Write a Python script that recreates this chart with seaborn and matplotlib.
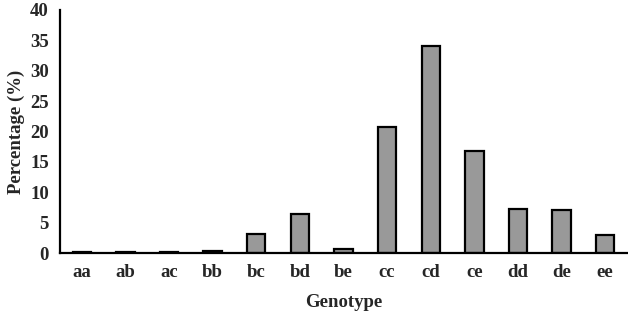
import matplotlib
matplotlib.use("Agg")
import matplotlib.pyplot as plt
import seaborn as sns
import pandas as pd
import numpy as np

genotypes = ["aa", "ab", "ac", "bb", "bc", "bd", "be", "cc", "cd", "ce", "dd", "de", "ee"]
percentages = [0.1, 0.1, 0.1, 0.3, 3.2, 6.5, 0.6, 20.8, 34.0, 16.8, 7.2, 7.0, 3.0]
y_ticks = [0, 5, 10, 15, 20, 25, 30, 35, 40]

sns.set_style("white")
plt.rcParams['font.family'] = ['Liberation Serif', 'DejaVu Serif']
plt.rcParams['font.weight'] = 'bold'

df = pd.DataFrame({"Genotype": genotypes, "Percentage": percentages})

fs = 13.5
fig = plt.figure(figsize=(6.28, 3.11), dpi=100)
ax = fig.add_axes([60/628, (311-253)/311, (627-60)/628, (253-10)/311])
sns.barplot(data=df, x="Genotype", y="Percentage", order=genotypes,
            color="#999999", saturation=1, edgecolor="black", linewidth=1.6,
            width=0.42, ax=ax)

ax.set_xlim(-0.5, len(genotypes) - 0.5)
ax.set_ylim(0, 40)
ax.set_yticks(y_ticks)
ax.set_yticklabels([str(t) for t in y_ticks], fontsize=fs, fontweight='bold')
ax.set_xticks(range(len(genotypes)))
ax.set_xticklabels(genotypes, fontsize=fs, fontweight='bold')
ax.set_xticks(np.arange(len(genotypes)) + 0.5, minor=True)
ax.tick_params(axis='x', which='major', length=0, pad=8)
ax.tick_params(axis='x', which='minor', direction='in', length=5, width=1.6, color='black')
ax.tick_params(axis='y', which='major', direction='in', length=5, width=1.6, color='black', pad=8)

for s in ["top", "right"]:
    ax.spines[s].set_visible(False)
for s in ["left", "bottom"]:
    ax.spines[s].set_linewidth(1.6)
    ax.spines[s].set_color("black")

ax.set_xlabel("Genotype", fontsize=fs, fontweight='bold', labelpad=9)
ax.set_ylabel("Percentage (%)", fontsize=fs, fontweight='bold', labelpad=4)

fig.savefig("out.png", dpi=100)
